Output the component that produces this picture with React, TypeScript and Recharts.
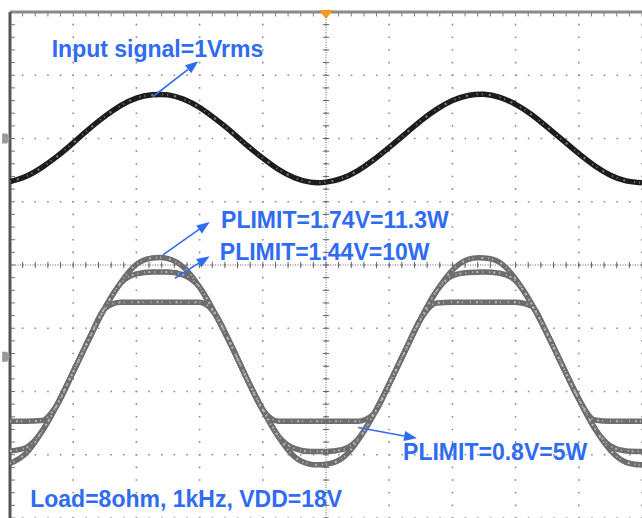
import React from 'react';
import { ComposedChart, Line, XAxis, YAxis, CartesianGrid, ReferenceLine, ReferenceDot } from 'recharts';

// time axis in scope divisions (10 horizontal divisions)
const timeDiv = [0, 0.25, 0.5, 0.75, 1, 1.25, 1.5, 1.75, 2, 2.25, 2.5, 2.75, 3, 3.25, 3.5, 3.75, 4, 4.25, 4.5, 4.75, 5, 5.25, 5.5, 5.75, 6, 6.25, 6.5, 6.75, 7, 7.25, 7.5, 7.75, 8, 8.25, 8.5, 8.75, 9, 9.25, 9.5, 9.75, 10];

// input signal (vertical divisions)
const inputSignal = [1.32, 1.40, 1.54, 1.72, 1.93, 2.15, 2.35, 2.52, 2.64, 2.69, 2.69, 2.62, 2.49, 2.31, 2.11, 1.89, 1.69, 1.51, 1.38, 1.31, 1.31, 1.37, 1.49, 1.66, 1.86, 2.07, 2.28, 2.46, 2.60, 2.68, 2.70, 2.65, 2.54, 2.38, 2.18, 1.97, 1.76, 1.57, 1.42, 1.33, 1.30];

// output, PLIMIT=1.74V=11.3W
const outPlimit174 = [-3.14, -2.98, -2.64, -2.20, -1.69, -1.17, -0.68, -0.28, 0.01, 0.11, 0.10, -0.04, -0.35, -0.78, -1.27, -1.80, -2.29, -2.72, -3.03, -3.15, -3.15, -3.06, -2.78, -2.37, -1.88, -1.36, -0.85, -0.41, -0.08, 0.09, 0.11, 0.04, -0.22, -0.61, -1.09, -1.61, -2.12, -2.58, -2.93, -3.12, -3.16];

// output, PLIMIT=1.44V=10W
const outPlimit144 = [-2.94, -2.89, -2.64, -2.20, -1.69, -1.17, -0.68, -0.29, -0.14, -0.11, -0.11, -0.16, -0.35, -0.78, -1.27, -1.80, -2.29, -2.71, -2.90, -2.95, -2.95, -2.92, -2.76, -2.37, -1.88, -1.36, -0.85, -0.41, -0.17, -0.12, -0.11, -0.13, -0.25, -0.61, -1.09, -1.61, -2.12, -2.58, -2.86, -2.94, -2.95];

// output, PLIMIT=0.8V=5W
const outPlimit08 = [-2.47, -2.47, -2.46, -2.20, -1.69, -1.17, -0.69, -0.59, -0.59, -0.59, -0.59, -0.59, -0.59, -0.78, -1.27, -1.80, -2.29, -2.47, -2.47, -2.47, -2.47, -2.47, -2.47, -2.36, -1.88, -1.36, -0.85, -0.60, -0.59, -0.59, -0.59, -0.59, -0.59, -0.65, -1.09, -1.61, -2.12, -2.45, -2.47, -2.47, -2.47];

const majorX = [0, 1, 2, 3, 4, 5, 6, 7, 8, 9, 10];
const majorY = [-4, -3, -2, -1, 0, 1, 2, 3, 4];

// annotation texts (position in divisions, baseline-left)
const labels = [
  { text: 'Input signal=1Vrms', x: 0.66, y: 3.29 },
  { text: 'PLIMIT=1.74V=11.3W', x: 3.34, y: 0.585 },
  { text: 'PLIMIT=1.44V=10W', x: 3.32, y: 0.08 },
  { text: 'PLIMIT=0.8V=5W', x: 6.22, y: -3.08 },
  { text: 'Load=8ohm, 1kHz, VDD=18V', x: 0.32, y: -3.83 },
];

// annotation arrows (from -> tip), in divisions
const arrows = [
  { x1: 2.26, y1: 2.66, x2: 2.98, y2: 3.22 },
  { x1: 2.42, y1: 0.16, x2: 3.16, y2: 0.68 },
  { x1: 2.61, y1: -0.21, x2: 3.16, y2: 0.14 },
  { x1: 5.51, y1: -2.57, x2: 6.44, y2: -2.74 },
];

const minorX: number[] = [];
for (let i = 0; i <= 50; i++) minorX.push(i / 5);
const minorY: number[] = [];
for (let i = -20; i <= 20; i++) minorY.push(i / 5);

const data = timeDiv.map((t, i) => ({
  t,
  input: inputSignal[i],
  p174: outPlimit174[i],
  p144: outPlimit144[i],
  p08: outPlimit08[i],
}));

const BLUE = '#2f6cf2';

const ArrowShape = (p: any) => {
  const { x1, y1, x2, y2 } = p;
  const ang = Math.atan2(y2 - y1, x2 - x1);
  const len = 13;
  const hw = 5;
  const bx = x2 - len * Math.cos(ang);
  const by = y2 - len * Math.sin(ang);
  const px = -Math.sin(ang) * hw;
  const py = Math.cos(ang) * hw;
  return (
    <g>
      <line x1={x1} y1={y1} x2={bx} y2={by} stroke={BLUE} strokeWidth={1.6} />
      <polygon points={`${x2},${y2} ${bx + px},${by + py} ${bx - px},${by - py}`} fill={BLUE} />
    </g>
  );
};

const makeText = (text: string) => (p: any) => (
  <text
    x={p.cx}
    y={p.cy}
    fill={BLUE}
    fontFamily="'Liberation Sans', Arial, sans-serif"
    fontWeight="bold"
    fontSize={23}
    textAnchor="start"
  >
    {text}
  </text>
);

const Trigger = (p: any) => (
  <polygon points={`${p.cx - 7},${p.cy - 2} ${p.cx + 7},${p.cy - 2} ${p.cx},${p.cy + 7}`} fill="#f39a1f" />
);

const ChMarker = (p: any) => (
  <polygon points={`${p.cx - 6},${p.cy - 5} ${p.cx - 1},${p.cy - 5} ${p.cx + 2},${p.cy} ${p.cx - 1},${p.cy + 5} ${p.cx - 6},${p.cy + 5}`} fill="#9a9a9a" />
);

const traceProps = { dot: false, isAnimationActive: false };

export default function App() {
  return (
    <div style={{ position: 'absolute', left: 0, top: 0, width: 642, height: 518, background: '#fff' }}>
      <ComposedChart width={642} height={518} data={data} margin={{ top: 12, right: 0, left: 10, bottom: 0 }}>
        <XAxis dataKey="t" type="number" domain={[0, 10]} ticks={majorX} hide allowDataOverflow />
        <YAxis type="number" domain={[-4, 4]} ticks={majorY} hide allowDataOverflow />
        <CartesianGrid stroke="#8c8c8c" strokeWidth={1.6} strokeDasharray="1.6 11.05" strokeDashoffset={0.8} />

        {/* centre cross hair */}
        <ReferenceLine x={5} stroke="#666" strokeWidth={1} strokeDasharray="1 1.5" ifOverflow="visible" />
        <ReferenceLine y={0} stroke="#666" strokeWidth={1} strokeDasharray="1 1.5" ifOverflow="visible" />
        {minorX.map((v) => (
          <ReferenceLine key={'cx' + v} segment={[{ x: v, y: -0.05 }, { x: v, y: 0.05 }]} stroke="#666" strokeWidth={1} ifOverflow="visible" />
        ))}
        {minorY.map((v) => (
          <ReferenceLine key={'cy' + v} segment={[{ x: 4.95, y: v }, { x: 5.05, y: v }]} stroke="#666" strokeWidth={1} ifOverflow="visible" />
        ))}

        {/* borders */}
        {minorY.map((v) => (
          <ReferenceLine key={'ly' + v} segment={[{ x: 0, y: v }, { x: 0.08, y: v }]} stroke="#777" strokeWidth={1} ifOverflow="visible" />
        ))}
        {minorX.map((v) => (
          <ReferenceLine key={'tx' + v} segment={[{ x: v, y: 4 }, { x: v, y: 3.93 }]} stroke="#777" strokeWidth={1} ifOverflow="visible" />
        ))}
        <ReferenceLine y={4} stroke="#8a8a8a" strokeWidth={3} ifOverflow="visible" />
        <ReferenceLine x={0} stroke="#555" strokeWidth={3} ifOverflow="visible" />

        {/* traces */}
        <Line {...traceProps} type="natural" dataKey="input" stroke="#1c1c1c" strokeWidth={5.5} />
        <Line {...traceProps} type="natural" dataKey="input" stroke="#808080" strokeWidth={2} strokeDasharray="1 6 2 9 1 4" />
        <Line {...traceProps} type="monotone" dataKey="p08" stroke="#6d6d6d" strokeWidth={5.5} />
        <Line {...traceProps} type="monotone" dataKey="p144" stroke="#6d6d6d" strokeWidth={5.5} />
        <Line {...traceProps} type="natural" dataKey="p174" stroke="#6d6d6d" strokeWidth={5.5} />
        <Line {...traceProps} type="monotone" dataKey="p08" stroke="#b8b8b8" strokeWidth={2} strokeDasharray="1 5 2 3 1 7" />
        <Line {...traceProps} type="monotone" dataKey="p144" stroke="#b8b8b8" strokeWidth={2} strokeDasharray="2 4 1 6 1 3" />
        <Line {...traceProps} type="natural" dataKey="p174" stroke="#b8b8b8" strokeWidth={2} strokeDasharray="1 3 1 8 2 5" />

        {/* markers */}
        <ReferenceDot x={5} y={4} r={0} shape={Trigger} ifOverflow="visible" />
        <ReferenceDot x={-0.03} y={2.0} r={0} shape={ChMarker} ifOverflow="visible" />
        <ReferenceDot x={-0.03} y={-1.45} r={0} shape={ChMarker} ifOverflow="visible" />

        {/* annotations */}
        {arrows.map((a, i) => (
          <ReferenceLine key={'ar' + i} segment={[{ x: a.x1, y: a.y1 }, { x: a.x2, y: a.y2 }]} shape={ArrowShape} ifOverflow="visible" />
        ))}
        {labels.map((l) => (
          <ReferenceDot key={l.text} x={l.x} y={l.y} r={0} shape={makeText(l.text)} ifOverflow="visible" />
        ))}
      </ComposedChart>
    </div>
  );
}
